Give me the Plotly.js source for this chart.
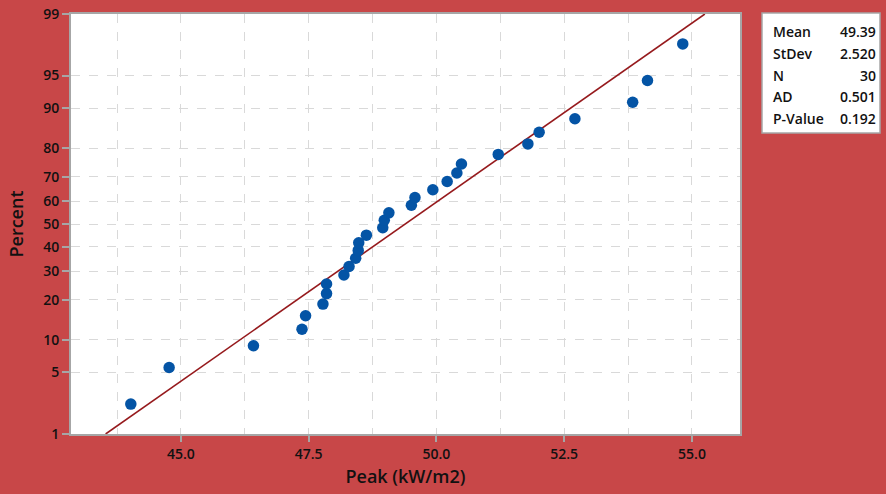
<!DOCTYPE html>
<html>
<head>
<meta charset="utf-8">
<script src="https://cdn.plot.ly/plotly-3.0.1.min.js"></script>
<style>html,body{margin:0;padding:0;background:#c84748;}#chart{width:886px;height:494px;}</style>
</head>
<body>
<div id="chart"></div>
<script>
// Data
var peak = [44.02, 44.77, 46.42, 47.37, 47.44, 47.78, 47.85, 47.85, 48.19, 48.29,
            48.42, 48.47, 48.48, 48.63, 48.95, 48.98, 49.07, 49.51, 49.58, 49.93,
            50.21, 50.40, 50.49, 51.21, 51.79, 52.01, 52.71, 53.84, 54.13, 54.82];
var percent = [2.30, 5.59, 8.88, 12.17, 15.46, 18.75, 22.04, 25.33, 28.62, 31.91,
               35.20, 38.49, 41.78, 45.07, 48.36, 51.64, 54.93, 58.22, 61.51, 64.80,
               68.09, 71.38, 74.67, 77.96, 81.25, 84.54, 87.83, 91.12, 94.41, 97.70];
var yTicks = [1, 5, 10, 20, 30, 40, 50, 60, 70, 80, 90, 95, 99];
var statLabels = ["Mean", "StDev", "N", "AD", "P-Value"];
var statValues = ["49.39", "2.520", "30", "0.501", "0.192"];
var fitMean = 49.39, fitSd = 2.520;
var fitPercent = [1, 99];

// inverse normal CDF (probability axis transform)
function probit(p) {
  var a = [-3.969683028665376e+01, 2.209460984245205e+02, -2.759285104469687e+02, 1.383577518672690e+02, -3.066479806614716e+01, 2.506628277459239e+00];
  var b = [-5.447609879822406e+01, 1.615858368580409e+02, -1.556989798598866e+02, 6.680131188771984e+01, -1.328068155288572e+01];
  var c = [-7.784894002430293e-03, -3.223964580411365e-01, -2.400758276161838e+00, -2.549732539343734e+00, 4.374664141464968e+00, 2.938163982698783e+00];
  var d = [7.784695709041462e-03, 3.224671290700398e-01, 2.445134137142996e+00, 3.754408661907416e+00];
  var plow = 0.02425, phigh = 1 - plow, q, r;
  if (p < plow) {
    q = Math.sqrt(-2 * Math.log(p));
    return (((((c[0]*q+c[1])*q+c[2])*q+c[3])*q+c[4])*q+c[5]) / ((((d[0]*q+d[1])*q+d[2])*q+d[3])*q+1);
  } else if (p > phigh) {
    q = Math.sqrt(-2 * Math.log(1 - p));
    return -(((((c[0]*q+c[1])*q+c[2])*q+c[3])*q+c[4])*q+c[5]) / ((((d[0]*q+d[1])*q+d[2])*q+d[3])*q+1);
  }
  q = p - 0.5; r = q * q;
  return (((((a[0]*r+a[1])*r+a[2])*r+a[3])*r+a[4])*r+a[5])*q / (((((b[0]*r+b[1])*r+b[2])*r+b[3])*r+b[4])*r+1);
}

var yPts = percent.map(function(v){ return probit(v/100); });
var fitZ = fitPercent.map(function(v){ return probit(v/100); });
var fitX = fitZ.map(function(z){ return fitMean + fitSd * z; });

var W = 886, H = 494, L = 71, R = 146, T = 14, B = 60;
var pw = W - L - R, ph = H - T - B;
function px(x){ return (x - L) / pw; }
function py(y){ return (H - B - y) / ph; }

var fnt = "Open Sans, Noto Sans, sans-serif";
var traces = [
  {x: fitX, y: fitZ, mode: 'lines', type: 'scatter', line: {color: '#961a1d', width: 1.6}, hoverinfo: 'skip'},
  {x: peak, y: yPts, mode: 'markers', type: 'scatter', marker: {color: '#0454a5', size: 11.5}}
];

var annotations = [];
var rowY = [32, 53.5, 75, 96.5, 118];
statLabels.forEach(function(s, i){
  annotations.push({xref: 'paper', yref: 'paper', x: px(771), y: py(rowY[i]), xanchor: 'left', yanchor: 'middle',
    text: s, showarrow: false, font: {family: fnt, size: 14, color: '#111', weight: 600}});
  annotations.push({xref: 'paper', yref: 'paper', x: px(878), y: py(rowY[i]), xanchor: 'right', yanchor: 'middle',
    text: statValues[i], showarrow: false, font: {family: fnt, size: 14, color: '#111', weight: 600}});
});

var zlo = probit(0.01), zhi = probit(0.99);
var layout = {
  width: W, height: H,
  margin: {l: L, r: R, t: T, b: B},
  paper_bgcolor: '#c84748',
  plot_bgcolor: '#ffffff',
  showlegend: false,
  font: {family: fnt, color: '#111'},
  xaxis: {
    range: [42.85, 55.94], tick0: 45, dtick: 2.5, tickformat: '.1f',
    showgrid: true, gridcolor: '#d9d9d9', griddash: 'dash', gridwidth: 1,
    minor: {dtick: 1.25, tick0: 45, showgrid: true, gridcolor: '#d9d9d9', griddash: 'dash', gridwidth: 1},
    showline: true, linecolor: '#a6a6a6', linewidth: 2, mirror: true,
    ticks: 'outside', ticklen: 6, tickcolor: '#a6a6a6', tickwidth: 2,
    tickfont: {family: fnt, size: 14, color: '#111', weight: 600},
    zeroline: false,
    title: {text: 'Peak (kW/m2)', font: {family: fnt, size: 18, color: '#111', weight: 600}, standoff: 9}
  },
  yaxis: {
    range: [zlo - 1e-6, zhi + 1e-6],
    tickmode: 'array',
    tickvals: yTicks.map(function(v){ return probit(v/100); }),
    ticktext: yTicks.map(String),
    showgrid: true, gridcolor: '#d9d9d9', griddash: 'dash', gridwidth: 1,
    showline: true, linecolor: '#a6a6a6', linewidth: 2, mirror: true,
    ticks: 'outside', ticklen: 7, tickcolor: '#a6a6a6', tickwidth: 2,
    tickfont: {family: fnt, size: 14, color: '#111', weight: 600},
    zeroline: false,
    title: {text: 'Percent', font: {family: fnt, size: 18, color: '#111', weight: 600}, standoff: 15}
  },
  shapes: [{type: 'rect', xref: 'paper', yref: 'paper', x0: px(762), x1: px(880), y0: py(133), y1: py(13),
    fillcolor: '#ffffff', line: {color: '#a6a6a6', width: 1.5}, layer: 'above'}],
  annotations: annotations
};

Plotly.newPlot('chart', traces, layout, {displayModeBar: false, staticPlot: true});
</script>
</body>
</html>
